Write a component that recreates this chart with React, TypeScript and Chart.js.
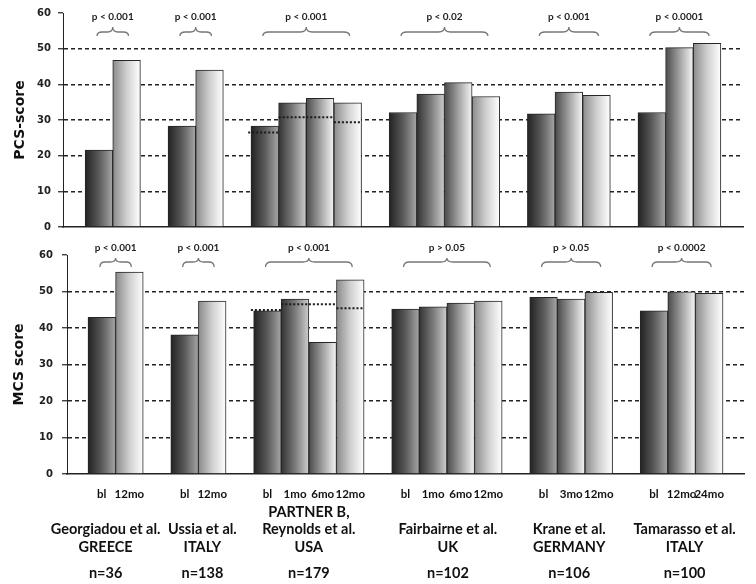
import React, { useEffect, useRef } from 'react';
import { Chart, registerables } from 'chart.js';

Chart.register(...registerables);

// ---------------- data ----------------
const studyNames: string[][] = [
  ['Georgiadou et al.', 'GREECE'],
  ['Ussia et al.', 'ITALY'],
  ['PARTNER B,', 'Reynolds et al.', 'USA'],
  ['Fairbairne et al.', 'UK'],
  ['Krane et al.', 'GERMANY'],
  ['Tamarasso et al.', 'ITALY'],
];
const sampleSizes = ['n=36', 'n=138', 'n=179', 'n=102', 'n=106', 'n=100'];
const timepoints: string[][] = [
  ['bl', '12mo'],
  ['bl', '12mo'],
  ['bl', '1mo', '6mo', '12mo'],
  ['bl', '1mo', '6mo', '12mo'],
  ['bl', '3mo', '12mo'],
  ['bl', '12mo', '24mo'],
];
const pcsScores: number[][] = [
  [21.6, 46.7],
  [28.3, 44.0],
  [28.3, 34.8, 36.1, 34.8],
  [32.1, 37.3, 40.5, 36.6],
  [31.7, 37.8, 36.9],
  [32.1, 50.3, 51.5],
];
const mcsScores: number[][] = [
  [42.9, 55.3],
  [38.1, 47.4],
  [44.7, 47.9, 36.1, 53.2],
  [45.2, 45.8, 46.8, 47.4],
  [48.4, 47.9, 49.8],
  [44.7, 49.9, 49.5],
];
const pcsPValues = ['p < 0.001', 'p < 0.001', 'p < 0.001', 'p < 0.02', 'p < 0.001', 'p < 0.0001'];
const mcsPValues = ['p < 0.001', 'p < 0.001', 'p < 0.001', 'p > 0.05', 'p > 0.05', 'p < 0.0002'];
const partnerStudyIndex = 2;
const pcsPartnerSubgroup = [26.5, 30.8, 30.8, 29.4];
const mcsPartnerSubgroup = [44.9, 46.5, 46.5, 45.4];
const yTicks = [0, 10, 20, 30, 40, 50, 60];

// ---------------- styling ----------------
const SHADES: string[][] = [
  ['#222222', '#5a5a5a', '#a6a6a6'],
  ['#333333', '#7a7a7a', '#cdcdcd'],
  ['#4a4a4a', '#a0a0a0', '#f6f6f6'],
  ['#8a8a8a', '#cfcfcf', '#ffffff'],
];
const LABEL_FONT = 'Lato, "Open Sans", sans-serif';
const NUM_FONT = '"DejaVu Sans", Verdana, sans-serif';

type Pt = { x: number; y: number; s: number; g: number; i: number };

function buildSlots(values: number[][]) {
  const pts: Pt[] = [];
  const groups: { start: number; end: number }[] = [];
  let slot = 1;
  values.forEach((grp, g) => {
    const start = slot;
    const n = grp.length;
    grp.forEach((v, i) => {
      const s = i === 0 ? 0 : i === n - 1 ? 3 : n === 4 && i === 1 ? 1 : 2;
      pts.push({ x: slot, y: v, s, g, i });
      slot++;
    });
    groups.push({ start, end: slot - 1 });
    slot++;
  });
  return { pts, groups };
}

type PanelCfg = {
  values: number[][];
  pvals: string[];
  partner: number[];
  title: string;
  width: number;
  height: number;
  left: number;
  right: number;
  top: number;
  bottom: number;
  xMin: number;
  xMax: number;
  tickPad: number;
  showLabels: boolean;
  textDy: number;
  tipDy: number;
  midDy: number;
  endDy: number;
  titlePad: number;
};

const TOP: PanelCfg = {
  values: pcsScores,
  pvals: pcsPValues,
  partner: pcsPartnerSubgroup,
  title: 'PCS-score',
  width: 756,
  height: 240,
  left: 63,
  right: 743,
  top: 11,
  bottom: 229,
  xMin: -0.3,
  xMax: 24.3,
  tickPad: 7,
  showLabels: false,
  textDy: 4,
  tipDy: 14,
  midDy: 19,
  endDy: 23,
  titlePad: 12,
};

const BOTTOM: PanelCfg = {
  values: mcsScores,
  pvals: mcsPValues,
  partner: mcsPartnerSubgroup,
  title: 'MCS score',
  width: 756,
  height: 344,
  left: 67,
  right: 744,
  top: 15,
  bottom: 234,
  xMin: -0.26,
  xMax: 24.26,
  tickPad: 9,
  showLabels: true,
  textDy: -7.5,
  tipDy: 3,
  midDy: 7,
  endDy: 12,
  titlePad: 11,
};

const labelOffsets = [-10, 4, 0, 1, -2, 3];

function drawBrace(ctx: CanvasRenderingContext2D, x1: number, x2: number, yTip: number, yMid: number, yEnd: number) {
  const xc = (x1 + x2) / 2;
  const r = Math.min(6, (x2 - x1) / 6);
  ctx.beginPath();
  ctx.moveTo(x1, yEnd);
  ctx.quadraticCurveTo(x1, yMid, x1 + r, yMid);
  ctx.lineTo(xc - r, yMid);
  ctx.quadraticCurveTo(xc, yMid, xc, yTip);
  ctx.quadraticCurveTo(xc, yMid, xc + r, yMid);
  ctx.lineTo(x2 - r, yMid);
  ctx.quadraticCurveTo(x2, yMid, x2, yEnd);
  ctx.stroke();
}

function makeChart(canvas: HTMLCanvasElement, cfg: PanelCfg) {
  const { pts, groups } = buildSlots(cfg.values);
  const slotLabels = new Map<number, string>();
  pts.forEach((p) => slotLabels.set(p.x, timepoints[p.g][p.i]));

  const annot = {
    id: 'annot',
    afterDatasetsDraw(chart: any) {
      const ctx: CanvasRenderingContext2D = chart.ctx;
      const xs = chart.scales.x;
      const ys = chart.scales.y;
      const top = chart.chartArea.top;
      ctx.save();
      // subgroup dotted lines in PARTNER group
      const pg = groups[partnerStudyIndex];
      ctx.strokeStyle = '#1a1a1a';
      ctx.lineWidth = 2;
      ctx.setLineDash([2, 2]);
      cfg.partner.forEach((v, k) => {
        const slot = pg.start + k;
        const y = ys.getPixelForValue(v);
        ctx.beginPath();
        ctx.moveTo(xs.getPixelForValue(slot - 0.5 - (k === 0 ? 0.1 : 0)), y);
        ctx.lineTo(xs.getPixelForValue(slot + 0.5), y);
        ctx.stroke();
      });
      ctx.setLineDash([]);
      // braces and p-values
      ctx.strokeStyle = '#777';
      ctx.lineWidth = 1.3;
      ctx.fillStyle = '#222';
      ctx.font = `bold 10px ${LABEL_FONT}`;
      ctx.textAlign = 'center';
      ctx.textBaseline = 'middle';
      groups.forEach((g, k) => {
        const x1 = xs.getPixelForValue(g.start - 0.5 + 0.43);
        const x2 = xs.getPixelForValue(g.end + 0.5 - 0.43);
        drawBrace(ctx, x1, x2, top + cfg.tipDy, top + cfg.midDy, top + cfg.endDy);
        ctx.fillText(cfg.pvals[k], (x1 + x2) / 2, top + cfg.textDy);
      });
      ctx.restore();
    },
    afterDraw(chart: any) {
      if (!cfg.showLabels) return;
      const ctx: CanvasRenderingContext2D = chart.ctx;
      const xs = chart.scales.x;
      const bottom = chart.chartArea.bottom;
      ctx.save();
      ctx.fillStyle = '#111';
      ctx.font = `bold 14.5px ${LABEL_FONT}`;
      ctx.textAlign = 'center';
      ctx.textBaseline = 'middle';
      groups.forEach((g, k) => {
        const cx = xs.getPixelForValue((g.start + g.end) / 2) + labelOffsets[k];
        const lines = studyNames[k];
        const lineYs = [bottom + 73, bottom + 55, bottom + 38];
        lines.forEach((t, j) => {
          const y = lineYs[lines.length - 1 - j];
          ctx.fillText(t, cx, y);
        });
        ctx.fillText(sampleSizes[k], cx, bottom + 99);
      });
      ctx.restore();
    },
  };

  return new Chart(canvas, {
    type: 'bar',
    data: {
      datasets: [
        {
          data: pts as any,
          backgroundColor: (c: any) => {
            const chart = c.chart;
            const xs = chart.scales?.x;
            const raw = c.raw as Pt | undefined;
            if (!xs || !raw || c.type !== 'data') return '#888';
            const l = xs.getPixelForValue(raw.x - 0.5);
            const r = xs.getPixelForValue(raw.x + 0.5);
            if (!Number.isFinite(l) || !Number.isFinite(r) || r <= l) return '#888';
            const grad = chart.ctx.createLinearGradient(l, 0, r, 0);
            const sh = SHADES[raw.s];
            grad.addColorStop(0, sh[0]);
            grad.addColorStop(0.5, sh[1]);
            grad.addColorStop(1, sh[2]);
            return grad;
          },
          borderColor: '#262626',
          borderWidth: 1,
          barPercentage: 1,
          categoryPercentage: 1,
        } as any,
      ],
    },
    options: {
      responsive: false,
      animation: false,
      events: [],
      layout: {
        padding: { left: 0, right: cfg.width - cfg.right, top: cfg.top, bottom: cfg.showLabels ? 0 : cfg.height - cfg.bottom },
      },
      plugins: { legend: { display: false }, tooltip: { enabled: false } },
      scales: {
        x: {
          type: 'linear',
          min: cfg.xMin,
          max: cfg.xMax,
          offset: false,
          bounds: 'data',
          grid: { display: false, offset: false },
          border: { display: true, color: '#222', width: 1.5 },
          afterBuildTicks: (s: any) => {
            s.ticks = pts.map((p) => ({ value: p.x }));
          },
          afterFit: (s: any) => {
            s.height = cfg.showLabels ? cfg.height - cfg.bottom : 0;
          },
          ticks: {
            display: cfg.showLabels,
            autoSkip: false,
            maxRotation: 0,
            minRotation: 0,
            padding: 5,
            color: '#111',
            font: { family: LABEL_FONT, weight: 'bold', size: 11.5 },
            callback: (v: any) => slotLabels.get(Number(v)) ?? '',
          },
        },
        y: {
          min: 0,
          max: 60,
          afterBuildTicks: (s: any) => {
            s.ticks = yTicks.map((v) => ({ value: v }));
          },
          afterFit: (s: any) => {
            s.width = cfg.left;
          },
          grid: {
            color: (c: any) =>
              c.tick && (c.tick.value === 0 || c.tick.value === 60) ? 'rgba(0,0,0,0)' : '#222',
            lineWidth: 1.5,
            tickColor: '#222',
            tickLength: 5,
            tickWidth: 1.2,
          },
          border: { display: true, color: '#222', width: 1, dash: [4, 3] },
          ticks: {
            padding: cfg.tickPad,
            color: '#222',
            font: { family: NUM_FONT, weight: 'bold', size: 10 },
          },
          title: {
            display: true,
            text: cfg.title,
            color: '#111',
            font: { family: NUM_FONT, weight: 'bold', size: 14 },
            padding: { top: cfg.titlePad, bottom: 0 },
          },
        },
      },
    } as any,
    plugins: [annot],
  });
}

export default function App() {
  const topRef = useRef<HTMLCanvasElement>(null);
  const botRef = useRef<HTMLCanvasElement>(null);

  useEffect(() => {
    const a = makeChart(topRef.current!, TOP);
    const b = makeChart(botRef.current!, BOTTOM);
    return () => {
      a.destroy();
      b.destroy();
    };
  }, []);

  return (
    <div style={{ position: 'absolute', left: 0, top: 0, width: 756, height: 584, background: '#fff' }}>
      <canvas ref={topRef} width={756} height={240} style={{ position: 'absolute', left: 0, top: 0 }} />
      <canvas ref={botRef} width={756} height={344} style={{ position: 'absolute', left: 0, top: 240 }} />
    </div>
  );
}
